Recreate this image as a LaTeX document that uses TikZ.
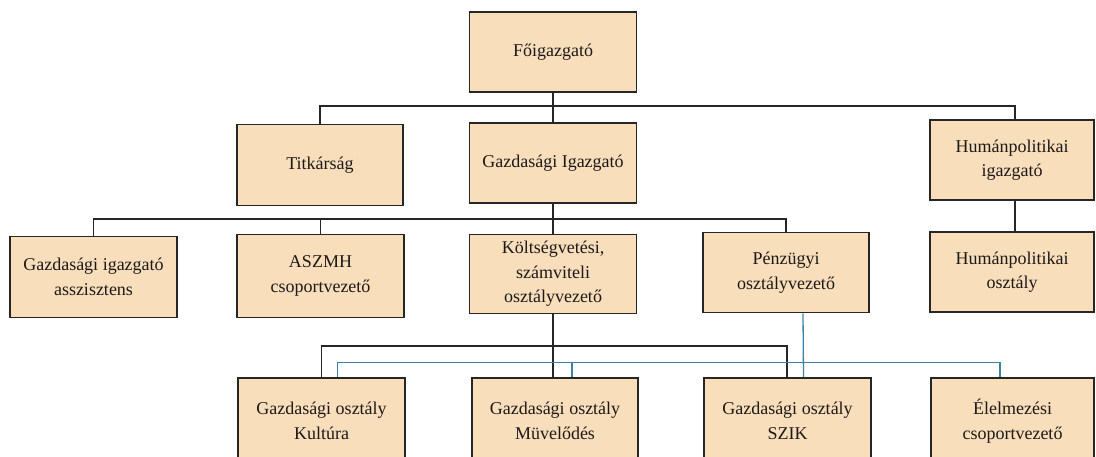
\documentclass[tikz,border=0pt]{standalone}
\usepackage{fontspec}
\setmainfont{Liberation Serif}
\definecolor{boxfill}{RGB}{248,222,186}
\definecolor{bluel}{RGB}{60,130,165}
\definecolor{txt}{RGB}{30,25,25}
\tikzset{
  orgbox/.style={draw=black!85, line width=1.7pt, fill=boxfill, align=center,
    inner sep=0pt, text=txt, font=\fontsize{18}{24.5}\selectfont},
  conn/.style={draw=black!85, line width=1.8pt},
  blueline/.style={draw=bluel, line width=1.3pt}
}
\begin{document}
\begin{tikzpicture}[x=1pt,y=-1pt]
\useasboundingbox (0,0) rectangle (1096,457);
\clip (0,0) rectangle (1096,457);
% top
\node[orgbox, minimum width=167pt, minimum height=80pt] (fo) at (553,52) {Főigazgató};
% level 1
\node[orgbox, minimum width=166pt, minimum height=81pt] (tit) at (320,165) {Titkárság};
\node[orgbox, minimum width=167pt, minimum height=80pt] (gi) at (553,163) {Gazdasági Igazgató};
\node[orgbox, minimum width=164pt, minimum height=80pt] (hi) at (1012,160) {Humánpolitikai\\igazgató};
% level 2
\node[orgbox, minimum width=167pt, minimum height=81pt] (asz) at (93.5,277) {Gazdasági igazgató\\asszisztens};
\node[orgbox, minimum width=167pt, minimum height=83pt] (aszmh) at (320.5,276) {ASZMH\\csoportvezető};
\node[orgbox, minimum width=167pt, minimum height=79pt] (kolt) at (553,274) {Költségvetési,\\számviteli\\osztályvezető};
\node[orgbox, minimum width=166pt, minimum height=80pt] (penz) at (786,272.5) {Pénzügyi\\osztályvezető};
\node[orgbox, minimum width=164pt, minimum height=80pt] (ho) at (1012,272) {Humánpolitikai\\osztály};
% level 3
\node[orgbox, minimum width=167pt, minimum height=86pt] (kult) at (321.5,421) {Gazdasági osztály\\Kultúra};
\node[orgbox, minimum width=166pt, minimum height=86pt] (muv) at (555,421) {Gazdasági osztály\\Müvelődés};
\node[orgbox, minimum width=167pt, minimum height=86pt] (szik) at (787.5,421) {Gazdasági osztály\\SZIK};
\node[orgbox, minimum width=163pt, minimum height=86pt] (elel) at (1012.5,421) {Élelmezési\\csoportvezető};
% connectors level 0 -> 1
\coordinate (b1) at (fo.south |- 0,106);
\draw[conn] (fo.south) -- (b1);
\draw[conn] (b1) -| (tit.north);
\draw[conn] (b1) -- (b1 |- gi.north);
\draw[conn] (b1) -| ([xshift=3pt]hi.north);
% level 1 -> 2
\coordinate (b2) at (gi.south |- 0,219);
\draw[conn] (gi.south) -- (b2);
\draw[conn] (b2) -| (asz.north);
\draw[conn] (b2) -| (aszmh.north);
\draw[conn] (b2) -- (b2 |- kolt.north);
\draw[conn] (b2) -| (penz.north);
\draw[conn] ([xshift=3pt]hi.south) -- ([xshift=3pt]ho.north);
% level 2 -> 3 (black)
\coordinate (b3) at (kolt.south |- 0,346);
\draw[conn] (kolt.south) -- (b3);
\draw[conn] (b3) -| (kult.north);
\draw[conn] (b3) -- (b3 |- muv.north);
\draw[conn] (b3) -| ([xshift=-0.5pt]szik.north);
% blue
\draw[blueline] ([xshift=17pt]penz.south) -- ([xshift=16pt]szik.north);
\draw[blueline] ([xshift=16pt]kult.north) -- ++(0,-15) -| ([xshift=-12.5pt]elel.north);
\draw[blueline] ([xshift=17pt]muv.north) -- ++(0,-15);
\end{tikzpicture}
\end{document}
